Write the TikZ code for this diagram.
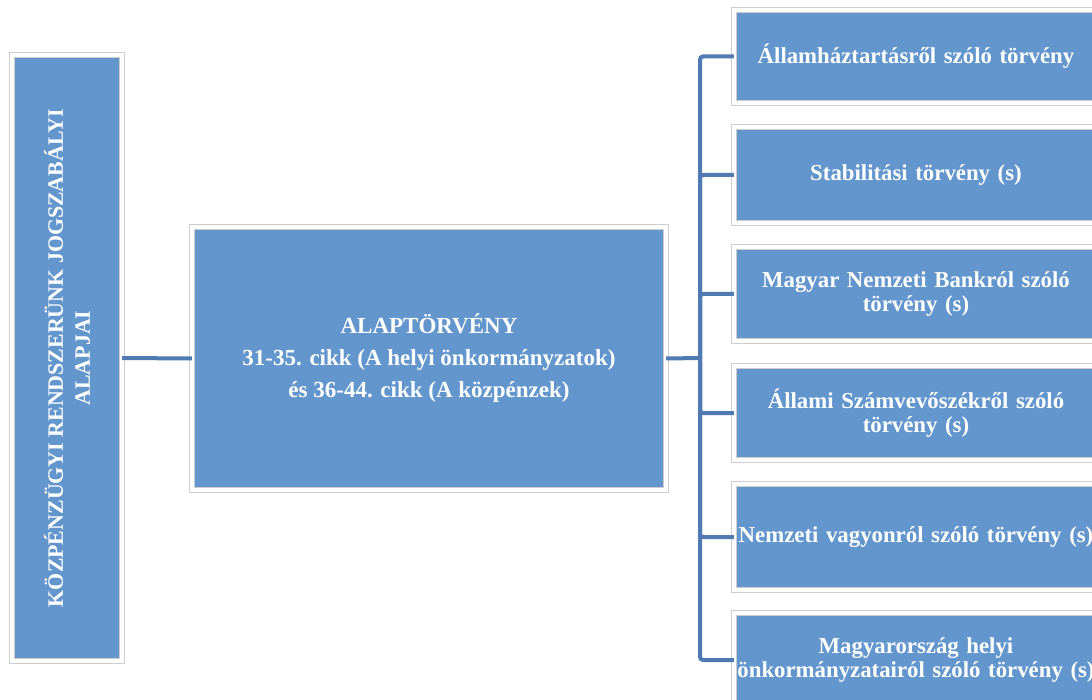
\documentclass[tikz,border=0pt]{standalone}
\usepackage{fontspec}
\setmainfont{Liberation Serif}
\definecolor{boxblue}{RGB}{98,150,205}
\definecolor{linkblue}{RGB}{79,123,178}
\definecolor{framegray}{RGB}{205,205,205}
\tikzset{
  bx/.style={draw=framegray, line width=0.8pt, double=white, double distance=4pt,
    fill=boxblue, text=white, inner sep=0pt, align=center,
    font=\bfseries\fontsize{22.8}{24}\selectfont},
  link/.style={draw=linkblue, line width=4pt, rounded corners=3pt}
}
\begin{document}
\begin{tikzpicture}[x=1pt,y=-1pt]
\useasboundingbox (0,0) rectangle (1092,700);
\clip (0,0) rectangle (1092,700);
% left box
\node[bx, minimum width=109.6pt, minimum height=605.6pt] (L) at (67,358) {};
\node[text=white, align=center, rotate=90, font=\bfseries\fontsize{21.9}{27}\selectfont] (Lt) at (67,358)
  {KÖZPÉNZÜGYI RENDSZERÜNK JOGSZABÁLYI\\ALAPJAI};
% middle box
\node[bx, minimum width=473.6pt, minimum height=262.6pt, font=\bfseries\fontsize{23}{32}\selectfont] (M) at (429,358.5)
  {ALAPTÖRVÉNY\\31-35. cikk (A helyi önkormányzatok)\\és 36-44. cikk (A közpénzek)};
% right boxes
\node[bx, minimum width=363.6pt, minimum height=92.6pt, text width=358pt] (B1) at (916,56.5) {Államháztartásről szóló törvény};
\node[bx, minimum width=363.6pt, minimum height=95.6pt, text width=358pt] (B2) at (916,175) {Stabilitási törvény (s)};
\node[bx, minimum width=363.6pt, minimum height=93.6pt, text width=358pt] (B3) at (916,294) {Magyar Nemzeti Bankról szóló\\törvény (s)};
\node[bx, minimum width=363.6pt, minimum height=93.6pt, text width=358pt] (B4) at (916,413) {Állami Számvevőszékről szóló\\törvény (s)};
\node[bx, minimum width=363.6pt, minimum height=105.6pt, text width=358pt] (B5) at (916,537) {Nemzeti vagyonról szóló törvény (s)};
\node[bx, minimum width=363.6pt, minimum height=93.6pt, text width=358pt] (B6) at (916,660) {Magyarország helyi\\önkormányzatairól szóló törvény (s)};
% connectors
\coordinate (T) at (700,358);
\draw[link] (L.east) -- (M.west);
\draw[link] (M.east) -- (T);
\foreach \b in {B1,B2,B3,B4,B5,B6}{
  \draw[link] (T) |- (\b.west);
}
\end{tikzpicture}
\end{document}
